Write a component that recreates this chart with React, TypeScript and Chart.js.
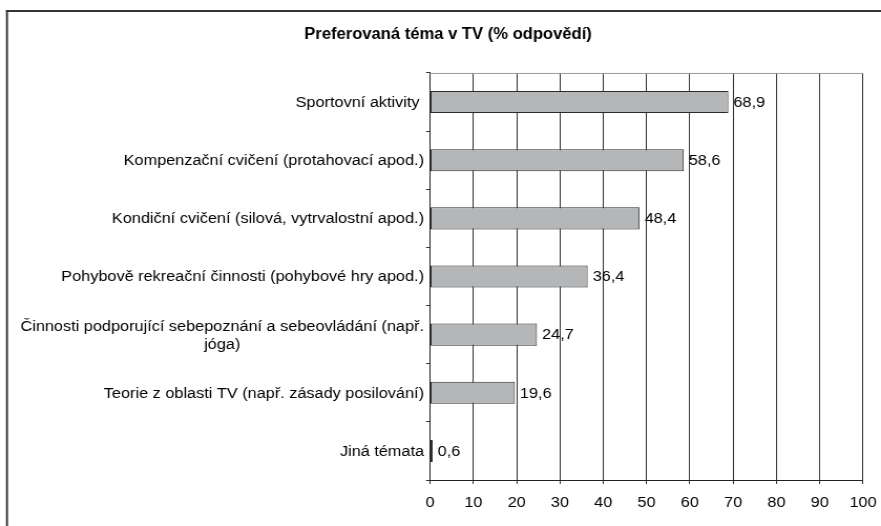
import React, { useEffect, useRef } from 'react';
import { Chart, registerables } from 'chart.js';

Chart.register(...registerables);

// ---- data ----
const TITLE = 'Preferovaná téma v TV (% odpovědí)';
const categories: (string | string[])[] = [
  'Sportovní aktivity ',
  'Kompenzační cvičení (protahovací apod.)',
  'Kondiční cvičení (silová, vytrvalostní apod.)',
  'Pohybově rekreační činnosti (pohybové hry apod.)',
  ['Činnosti podporující sebepoznání a sebeovládání (např.', 'jóga)'],
  'Teorie z oblasti TV (např. zásady posilování)',
  'Jiná témata',
];
const values: number[] = [68.9, 58.6, 48.4, 36.4, 24.7, 19.6, 0.6];
const X_MIN = 0;
const X_MAX = 100;
const X_STEP = 10;

// ---- rendering setup (reference is slightly stretched horizontally) ----
const S = 1.05;
const OUT_W = 881;
const OUT_H = 526;
const W = Math.round(OUT_W / S);
const H = OUT_H;
const FONT = '"Liberation Sans", Arial, Helvetica, sans-serif';
const TEXT = '#000';
const FS = 15.5;
const TITLE_FS = 15.8;

// layout in output pixels, converted to internal canvas pixels
const CL = 430 / S;
const CR = 863 / S;
const PR = W - CR;
const PL = 2 * (448 / S) - W + PR;
const Y_WIDTH = CL - PL;

const decor = {
  id: 'decor',
  beforeDraw(chart: any) {
    const { ctx } = chart;
    ctx.save();
    ctx.fillStyle = '#fff';
    ctx.fillRect(0, 0, chart.width, chart.height);
    ctx.strokeStyle = '#333';
    ctx.lineWidth = 2;
    ctx.beginPath();
    ctx.moveTo(6 / S, 11);
    ctx.lineTo(chart.width, 11);
    ctx.stroke();
    ctx.lineWidth = 2 / S;
    ctx.beginPath();
    ctx.moveTo(7 / S, 10);
    ctx.lineTo(7 / S, chart.height);
    ctx.stroke();
    ctx.restore();
  },
  beforeDatasetsDraw(chart: any) {
    const { ctx, chartArea } = chart;
    ctx.save();
    ctx.strokeStyle = '#999';
    ctx.lineWidth = 1;
    ctx.beginPath();
    ctx.moveTo(chartArea.left, chartArea.top + 0.5);
    ctx.lineTo(chartArea.right, chartArea.top + 0.5);
    ctx.stroke();
    ctx.restore();
  },
  afterDatasetsDraw(chart: any) {
    const { ctx, chartArea } = chart;
    const meta = chart.getDatasetMeta(0);
    const yScale = chart.scales.y;
    ctx.save();
    ctx.fillStyle = TEXT;
    ctx.font = `${FS}px ${FONT}`;
    ctx.textBaseline = 'middle';
    // value labels
    ctx.textAlign = 'left';
    meta.data.forEach((el: any, i: number) => {
      const txt = String(values[i]).replace('.', ',');
      ctx.fillText(txt, el.x + 5 / S, el.y + 0.5);
    });
    // category labels
    const xRight = chartArea.left - 6 / S;
    const lineH = 18;
    categories.forEach((lab, i) => {
      const y = yScale.getPixelForValue(i);
      const lines = Array.isArray(lab) ? lab : [lab];
      const y0 = y - ((lines.length - 1) * lineH) / 2 + 1;
      if (lines.length === 1) {
        ctx.textAlign = 'right';
        ctx.fillText(lines[0], xRight, y + 0.5);
      } else {
        const maxW = Math.max(...lines.map((l) => ctx.measureText(l).width));
        ctx.textAlign = 'center';
        lines.forEach((l, k) => ctx.fillText(l, xRight - maxW / 2, y0 + k * lineH));
      }
    });
    ctx.restore();
  },
};

export default function App() {
  const ref = useRef<HTMLCanvasElement | null>(null);

  useEffect(() => {
    if (!ref.current) return;
    const chart = new Chart(ref.current, {
      type: 'bar',
      data: {
        labels: categories.map((c) => (Array.isArray(c) ? c.join(' ') : c)),
        datasets: [
          {
            data: values,
            backgroundColor: '#b4b6b8',
            borderColor: '#2b2b2b',
            borderWidth: 1,
            borderSkipped: false,
            barPercentage: 0.38,
            categoryPercentage: 1,
          },
        ],
      },
      options: {
        indexAxis: 'y',
        animation: false,
        responsive: false,
        devicePixelRatio: 1,
        events: [],
        layout: { padding: { left: PL, right: PR, top: 0, bottom: 13.7 } },
        plugins: {
          legend: { display: false },
          tooltip: { enabled: false },
          title: {
            display: true,
            text: TITLE,
            color: TEXT,
            font: { family: FONT, size: TITLE_FS, weight: 'bold' },
            padding: { top: 25.5, bottom: 28.5 },
          },
        },
        scales: {
          x: {
            type: 'linear',
            min: X_MIN,
            max: X_MAX,
            ticks: {
              stepSize: X_STEP,
              color: TEXT,
              padding: 9.7,
              font: { family: FONT, size: FS },
              maxRotation: 0,
            },
            grid: {
              color: '#333',
              lineWidth: 1,
              tickLength: 4,
              drawTicks: true,
            },
            border: { display: true, color: '#222', width: 1 },
            afterFit: (scale: any) => {
              scale.height = 32.3;
              scale.paddingLeft = 0;
              scale.paddingRight = 0;
            },
          },
          y: {
            type: 'category',
            ticks: { display: false },
            grid: {
              drawOnChartArea: false,
              drawTicks: true,
              tickLength: 4 / S,
              color: '#333',
            },
            border: { display: true, color: '#222', width: 1 },
            afterFit: (scale: any) => {
              scale.width = Y_WIDTH;
            },
          },
        },
      },
      plugins: [decor],
    });
    return () => chart.destroy();
  }, []);

  return (
    <div style={{ position: 'fixed', left: 0, top: 0, width: OUT_W, height: OUT_H, background: '#fff' }}>
      <canvas
        ref={ref}
        width={W}
        height={H}
        style={{ display: 'block', width: `${OUT_W}px`, height: `${OUT_H}px` }}
      />
    </div>
  );
}
